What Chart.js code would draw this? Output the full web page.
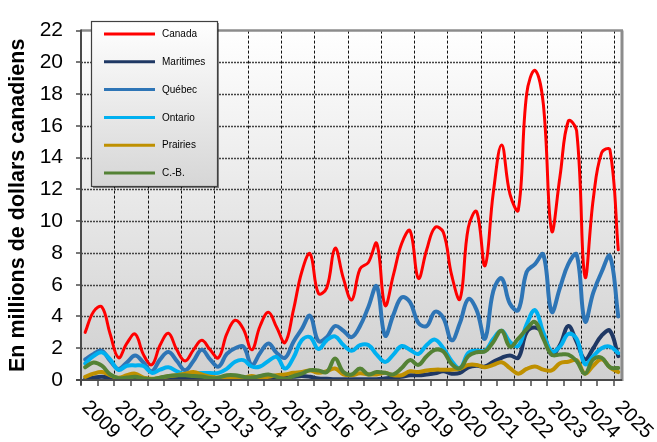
<!DOCTYPE html>
<html><head><meta charset="utf-8">
<script src="https://cdn.jsdelivr.net/npm/chart.js@4.4.1/dist/chart.umd.min.js"></script>
<style>html,body{margin:0;padding:0;background:#fff;overflow:hidden}#wrap{width:657px;height:442px}</style>
</head><body><div id="wrap"><canvas id="c" width="657" height="442"></canvas></div>
<script>
// ---- data (quarterly, 2009 T1 .. 2025 T1) ----
const yearLabels = ['2009','2010','2011','2012','2013','2014','2015','2016','2017','2018','2019','2020','2021','2022','2023','2024','2025'];
const seriesNames = ['Canada','Maritimes','Québec','Ontario','Prairies','C.-B.'];
const canada = [3.0,4.3,4.6,2.9, 1.4,2.3,2.9,1.6, 0.96,2.2,2.94,1.9, 1.2,1.9,2.5,1.9, 1.4,2.9,3.76,3.2, 1.9,3.4,4.26,3.3, 2.36,4.4,6.8,7.95, 5.45,5.8,8.3,6.4, 5.04,7.0,7.4,8.6, 4.7,6.6,8.6,9.4, 6.4,8.2,9.6,9.3, 6.6,5.1,9.6,10.6, 7.2,11.8,14.8,11.7, 10.7,18.0,19.5,17.4, 9.4,12.8,16.3,15.7, 6.5,11.4,14.3,14.5, 8.2];
const maritimes = [0.05,0.15,0.2,0.15, 0.1,0.1,0.15,0.1, 0.05,0.1,0.15,0.1, 0.1,0.1,0.1,0.1, 0.05,0.1,0.1,0.1, 0.1,0.1,0.15,0.1, 0.15,0.2,0.25,0.2, 0.1,0.08,0.05,0.05, 0.05,0.05,0.05,0.05, 0.1,0.15,0.2,0.3, 0.3,0.35,0.42,0.55, 0.4,0.45,0.8,0.9, 0.85,1.15,1.4,1.55, 1.4,3.0,3.3,2.9, 1.6,2.2,3.4,2.4, 1.3,2.0,2.8,3.1, 1.5];
const quebec = [1.3,1.64,1.84,1.2, 0.7,1.1,1.54,1.1, 0.55,1.3,1.76,1.2, 0.62,1.2,1.9,1.3, 0.84,1.64,2.0,2.1, 0.95,1.7,2.3,1.7, 1.4,2.4,3.2,4.04, 2.45,2.7,3.4,3.1, 2.7,3.4,4.6,5.9, 2.8,4.1,5.2,4.9, 3.6,3.4,4.3,3.9, 2.5,3.6,5.1,4.4, 2.6,5.6,6.4,4.8, 4.4,6.8,7.3,7.9, 4.3,5.8,7.3,7.9, 3.7,5.5,6.8,7.8, 4.0];
const ontario = [1.04,1.5,1.74,1.3, 0.64,0.9,0.92,0.88, 0.45,0.65,0.8,0.55, 0.38,0.42,0.44,0.44, 0.45,0.7,1.15,1.25, 0.85,0.85,1.2,1.45, 0.72,1.4,2.5,2.7, 1.95,2.5,2.75,2.2, 1.84,2.2,2.2,1.6, 1.14,1.6,2.14,1.9, 1.64,2.2,2.54,2.0, 1.2,0.75,1.7,1.85, 1.84,2.6,3.1,2.4, 2.15,3.5,4.4,3.0, 1.8,2.1,2.9,2.6, 1.0,1.5,2.0,2.1, 1.7];
const prairies = [0.2,0.4,0.5,0.3, 0.14,0.3,0.4,0.15, 0.08,0.15,0.24,0.3, 0.4,0.5,0.35,0.2, 0.15,0.12,0.1,0.15, 0.25,0.15,0.2,0.3, 0.35,0.45,0.5,0.6, 0.45,0.55,0.72,0.35, 0.3,0.42,0.35,0.35, 0.45,0.3,0.3,0.55, 0.5,0.6,0.65,0.65, 0.65,0.7,0.95,0.95, 0.8,0.95,1.12,0.75, 0.4,0.7,0.85,0.65, 0.6,1.05,1.15,1.25, 0.4,0.9,1.3,0.8, 0.5];
const cb = [0.8,1.1,0.9,0.35, 0.12,0.15,0.2,0.1, 0.05,0.15,0.25,0.3, 0.3,0.25,0.22,0.12, 0.15,0.3,0.3,0.2, 0.15,0.25,0.35,0.2, 0.06,0.25,0.4,0.62, 0.6,0.5,1.35,0.5, 0.35,0.72,0.35,0.5, 0.45,0.35,0.75,1.25, 0.95,1.5,1.9,1.8, 1.0,0.75,1.5,1.75, 1.8,2.4,3.1,2.1, 2.6,3.2,3.65,2.6, 1.6,1.6,1.6,1.2, 0.4,1.3,1.4,0.8, 0.75];
const seriesValues = [canada, maritimes, quebec, ontario, prairies, cb];
const seriesColors = ['#ff0000','#1f3864','#2e75b6','#00b0f0','#bf9000','#548235'];
const seriesWidths = [3, 4, 4, 4, 4, 4];

const FONT = "'Liberation Sans', Arial, Helvetica, sans-serif";
const yearPos = k => -0.5 + 4 * k;   // year boundary on the quarter-index axis

const datasets = seriesValues.map((vals, s) => ({
  label: seriesNames[s],
  data: vals.map((v, i) => ({x: i, y: v})),
  borderColor: seriesColors[s],
  backgroundColor: seriesColors[s],
  borderWidth: seriesWidths[s],
  pointRadius: 0,
  fill: false,
  tension: 0.4,
  order: seriesValues.length - 1 - s
}));

function seg(ctx, x1, y1, x2, y2) { ctx.beginPath(); ctx.moveTo(x1, y1); ctx.lineTo(x2, y2); ctx.stroke(); }

const decor = {
  id: 'decor',
  beforeDatasetsDraw(chart) {
    const {ctx, chartArea: a, scales: {x, y}} = chart;
    ctx.save();
    const g = ctx.createLinearGradient(0, a.top, 0, a.bottom);
    g.addColorStop(0, '#ffffff'); g.addColorStop(1, '#d0d0d0');
    ctx.fillStyle = g;
    ctx.fillRect(a.left, a.top, a.right - a.left, a.bottom - a.top);
    ctx.setLineDash([2, 1]); ctx.strokeStyle = '#444'; ctx.lineWidth = 1.3;
    y.ticks.forEach(t => {
      if (t.value <= 0 || t.value >= 22) return;
      const py = Math.round(y.getPixelForValue(t.value)) + 0.5;
      seg(ctx, a.left, py, a.right, py);
    });
    ctx.setLineDash([3, 2]); ctx.strokeStyle = '#111'; ctx.lineWidth = 1;
    yearLabels.forEach((lab, k) => {
      if (k === 0) return;
      const px = Math.round(x.getPixelForValue(yearPos(k))) + 0.5;
      seg(ctx, px, a.top, px, a.bottom);
    });
    ctx.restore();
  },
  afterDatasetsDraw(chart) {
    const {ctx, chartArea: a, scales: {x, y}} = chart;
    ctx.save();
    ctx.setLineDash([]);
    ctx.strokeStyle = '#8c8c8c'; ctx.lineWidth = 2.5;
    seg(ctx, a.left, a.top, a.right + 1, a.top);
    ctx.lineWidth = 3;
    seg(ctx, a.right, a.top, a.right, a.bottom + 1);
    ctx.strokeStyle = '#4a4a4a'; ctx.lineWidth = 2;
    seg(ctx, a.left, a.top - 1, a.left, a.bottom + 5);
    seg(ctx, a.left - 5, a.bottom, a.right, a.bottom);
    ctx.lineWidth = 1.5;
    y.ticks.forEach(t => {
      const py = Math.round(y.getPixelForValue(t.value));
      seg(ctx, a.left - 5, py, a.left, py);
    });
    for (let k = 0; k <= 32; k++) {
      const px = Math.round(x.getPixelForValue(-0.5 + 2 * k));
      seg(ctx, px, a.bottom, px, a.bottom + 6);
    }
    ctx.fillStyle = '#000';
    ctx.font = '20px ' + FONT;
    ctx.textAlign = 'left'; ctx.textBaseline = 'middle';
    yearLabels.forEach((lab, k) => {
      const px = x.getPixelForValue(yearPos(k));
      ctx.save();
      ctx.translate(px + 4, a.bottom + 24);
      ctx.rotate(Math.PI / 4);
      ctx.fillText(lab, 0, 0);
      ctx.restore();
    });
    const lx = 91, ly = 21, lw = 126, lh = 165;
    ctx.fillStyle = 'rgba(0,0,0,0.45)';
    ctx.fillRect(lx + 2, ly + 2, lw, lh);
    const lg = ctx.createLinearGradient(0, ly, 0, ly + lh);
    lg.addColorStop(0, '#ffffff'); lg.addColorStop(1, '#d6d6d6');
    ctx.fillStyle = lg; ctx.fillRect(lx, ly, lw, lh);
    ctx.strokeStyle = '#404040'; ctx.lineWidth = 1.2;
    ctx.strokeRect(lx + 0.5, ly + 0.5, lw, lh);
    ctx.font = '10px ' + FONT;
    ctx.textAlign = 'left'; ctx.textBaseline = 'middle';
    seriesNames.forEach((n, s) => {
      const ry = 34 + s * 27.8;
      ctx.strokeStyle = seriesColors[s]; ctx.lineWidth = 3;
      seg(ctx, 104, ry, 155, ry);
      ctx.fillStyle = '#000';
      ctx.fillText(n, 162, ry + 0.5);
    });
    ctx.restore();
  }
};

new Chart(document.getElementById('c'), {
  type: 'line',
  data: {datasets},
  plugins: [decor],
  options: {
    responsive: false, animation: false, devicePixelRatio: 1,
    layout: {padding: {left: 0, top: 13, right: 35, bottom: 0}},
    plugins: {legend: {display: false}, tooltip: {enabled: false}},
    elements: {point: {radius: 0}, line: {borderCapStyle: 'round', borderJoinStyle: 'round'}},
    scales: {
      x: {type: 'linear', min: -0.5, max: 64.45,
          grid: {display: false}, border: {display: false}, ticks: {display: false},
          afterFit(s) { s.height = 62; }},
      y: {min: 0, max: 22,
          ticks: {stepSize: 2, color: '#000', padding: 18, font: {family: FONT, size: 21}},
          grid: {display: false, drawTicks: false}, border: {display: false},
          title: {display: true, text: 'En millions de dollars canadiens', color: '#000',
                  font: {family: FONT, size: 21.5, weight: 'bold'}, padding: {top: 5, bottom: 0}},
          afterFit(s) { s.width = 81; }}
    }
  }
});
</script></body></html>
